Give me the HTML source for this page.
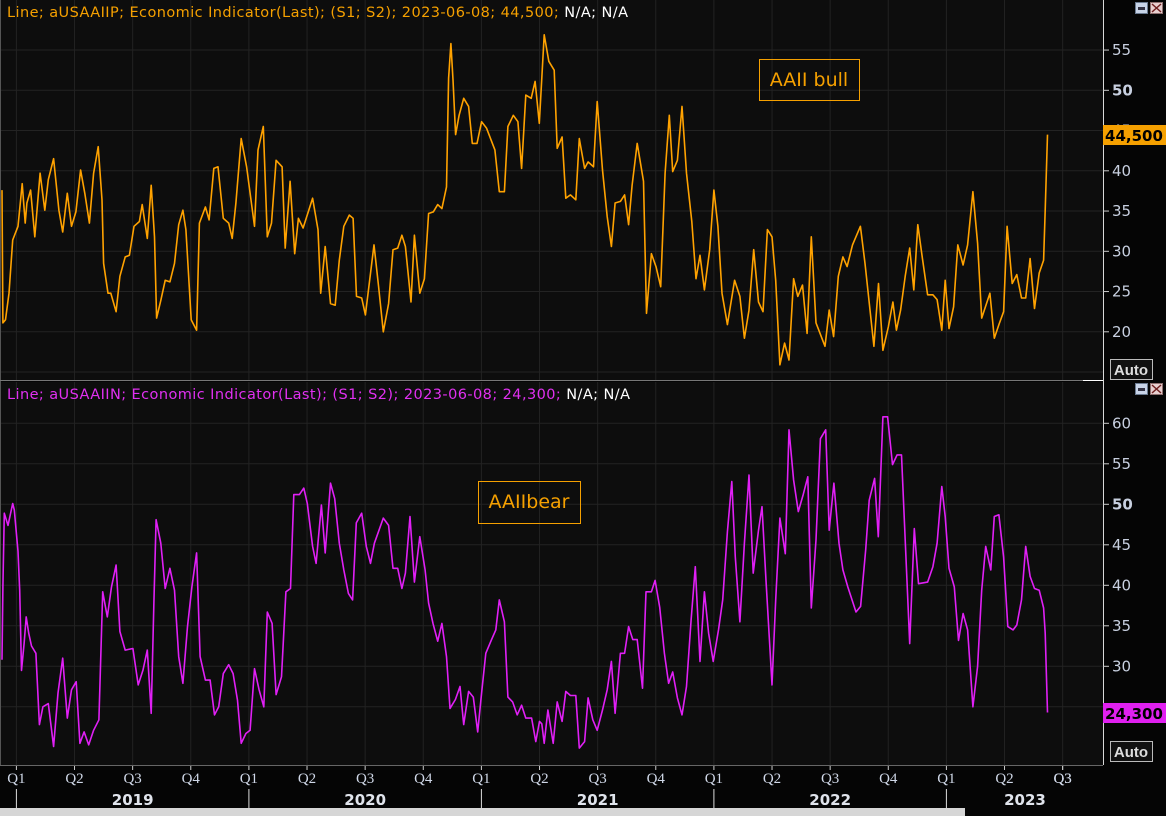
<!DOCTYPE html>
<html><head><meta charset="utf-8">
<style>
html,body{margin:0;padding:0;background:#000;width:1166px;height:816px;overflow:hidden;font-family:"Liberation Sans",sans-serif}
svg{display:block}
</style></head>
<body>
<svg id="chart" width="1166" height="816" xmlns="http://www.w3.org/2000/svg">
<rect x="0" y="0" width="1166" height="816" fill="#050505"/>
<rect x="1" y="0" width="1102" height="380" fill="#0d0d0d"/>
<rect x="1" y="382" width="1102" height="383" fill="#0d0d0d"/>
<g id="grid"></g>
<g id="series"></g>
<line x1="0.5" y1="0" x2="0.5" y2="765" stroke="#555"/>
<line x1="1103.5" y1="0" x2="1103.5" y2="765" stroke="#d8d8d8"/>
<line x1="0" y1="380.5" x2="1103" y2="380.5" stroke="#777"/>
<line x1="1083" y1="380.5" x2="1103" y2="380.5" stroke="#fff"/>
<line x1="0" y1="765.5" x2="1103" y2="765.5" stroke="#666"/>
<g id="axes"></g>
<text x="7" y="17" font-size="14.5" font-family="DejaVu Sans, sans-serif" fill="#f5a000" textLength="621" lengthAdjust="spacing">Line; aUSAAIIP; Economic Indicator(Last); (S1; S2); 2023-06-08; 44,500; <tspan fill="#fff">N/A; N/A</tspan></text>
<text x="7" y="399" font-size="14.5" font-family="DejaVu Sans, sans-serif" fill="#e030f0" textLength="623" lengthAdjust="spacing">Line; aUSAAIIN; Economic Indicator(Last); (S1; S2); 2023-06-08; 24,300; <tspan fill="#fff">N/A; N/A</tspan></text>
<g><rect x="759.5" y="59.5" width="100" height="41" fill="none" stroke="#f5a000"/><text x="809" y="86" font-size="19" font-family="DejaVu Sans, sans-serif" fill="#f5a000" text-anchor="middle">AAII bull</text></g>
<g><rect x="478.5" y="481.5" width="102" height="42" fill="none" stroke="#f5a000"/><text x="529" y="508" font-size="19" font-family="DejaVu Sans, sans-serif" fill="#f5a000" text-anchor="middle">AAIIbear</text></g>
<g><rect x="1103" y="125" width="63" height="20" fill="#f5a000"/><text x="1134" y="141" font-size="15" font-weight="bold" font-family="DejaVu Sans, sans-serif" fill="#000" text-anchor="middle">44,500</text></g>
<g><rect x="1103" y="703" width="63" height="20" fill="#e020f0"/><text x="1134" y="719" font-size="15" font-weight="bold" font-family="DejaVu Sans, sans-serif" fill="#000" text-anchor="middle">24,300</text></g>
<g><rect x="1110.5" y="359.5" width="42" height="20" fill="#111" stroke="#bbb"/><text x="1131" y="375" font-size="15" font-weight="bold" fill="#ddd" text-anchor="middle">Auto</text></g>
<g><rect x="1110.5" y="741.5" width="42" height="20" fill="#111" stroke="#bbb"/><text x="1131" y="757" font-size="15" font-weight="bold" fill="#ddd" text-anchor="middle">Auto</text></g>
<g><rect x="1135.5" y="2.5" width="12" height="11" fill="#c8d4e8" stroke="#6a7a90"/><rect x="1138" y="7" width="7" height="3" fill="#334"/></g>
<g><rect x="1150.5" y="2.5" width="12" height="11" fill="#e8d0d0" stroke="#907070"/><path d="M1152 4 L1161 12 M1161 4 L1152 12" stroke="#702020" stroke-width="1.5"/></g>
<g><rect x="1135.5" y="383.5" width="12" height="11" fill="#c8d4e8" stroke="#6a7a90"/><rect x="1138" y="388" width="7" height="3" fill="#334"/></g>
<g><rect x="1150.5" y="383.5" width="12" height="11" fill="#e8d0d0" stroke="#907070"/><path d="M1152 385 L1161 393 M1161 385 L1152 393" stroke="#702020" stroke-width="1.5"/></g>
<rect x="0" y="808" width="965" height="8" fill="#d6d6d6"/>
</svg>
<script>
const bullDates=[2018.938,2018.942,2018.953,2018.968,2018.984,2019.007,2019.025,2019.038,2019.045,2019.061,2019.079,2019.091,2019.102,2019.122,2019.137,2019.160,2019.183,2019.199,2019.219,2019.237,2019.256,2019.276,2019.294,2019.314,2019.332,2019.352,2019.368,2019.375,2019.394,2019.406,2019.429,2019.445,2019.468,2019.486,2019.506,2019.529,2019.541,2019.563,2019.580,2019.594,2019.603,2019.621,2019.640,2019.660,2019.680,2019.698,2019.716,2019.729,2019.752,2019.775,2019.787,2019.813,2019.829,2019.849,2019.867,2019.890,2019.913,2019.928,2019.944,2019.967,2019.990,2020.024,2020.039,2020.062,2020.079,2020.097,2020.117,2020.143,2020.156,2020.177,2020.197,2020.213,2020.233,2020.274,2020.297,2020.309,2020.328,2020.351,2020.371,2020.389,2020.408,2020.432,2020.448,2020.463,2020.485,2020.501,2020.538,2020.558,2020.578,2020.601,2020.620,2020.640,2020.658,2020.673,2020.697,2020.712,2020.735,2020.755,2020.773,2020.793,2020.812,2020.830,2020.850,2020.859,2020.869,2020.878,2020.889,2020.904,2020.924,2020.945,2020.961,2020.981,2021.001,2021.022,2021.058,2021.077,2021.099,2021.114,2021.137,2021.157,2021.173,2021.191,2021.214,2021.231,2021.249,2021.270,2021.290,2021.313,2021.326,2021.347,2021.363,2021.383,2021.406,2021.421,2021.444,2021.459,2021.482,2021.498,2021.521,2021.541,2021.559,2021.575,2021.598,2021.616,2021.633,2021.648,2021.670,2021.697,2021.710,2021.731,2021.751,2021.771,2021.790,2021.808,2021.823,2021.843,2021.863,2021.882,2021.905,2021.923,2021.940,2021.959,2021.982,2022.000,2022.017,2022.035,2022.058,2022.089,2022.112,2022.131,2022.151,2022.171,2022.192,2022.211,2022.230,2022.250,2022.266,2022.284,2022.304,2022.323,2022.343,2022.361,2022.381,2022.401,2022.419,2022.439,2022.478,2022.496,2022.515,2022.535,2022.555,2022.573,2022.596,2022.630,2022.650,2022.688,2022.708,2022.727,2022.750,2022.770,2022.785,2022.803,2022.823,2022.842,2022.860,2022.877,2022.896,2022.919,2022.942,2022.960,2022.980,2022.995,2023.011,2023.031,2023.049,2023.072,2023.091,2023.114,2023.134,2023.152,2023.187,2023.206,2023.226,2023.246,2023.261,2023.283,2023.303,2023.323,2023.341,2023.360,2023.379,2023.399,2023.418,2023.425,2023.435];
const bullValues=[37.6,21.1,21.5,24.8,31.4,33.1,38.4,33.5,36.0,37.6,31.8,36.0,39.7,35.1,38.9,41.5,35.1,32.4,37.2,33.1,34.9,40.1,37.2,33.5,39.7,43.0,36.4,28.5,24.8,24.8,22.5,26.9,29.3,29.5,33.1,33.7,35.8,31.6,38.2,31.8,21.7,23.9,26.4,26.2,28.5,33.3,35.1,32.7,21.5,20.2,33.5,35.5,33.9,40.3,40.5,34.1,33.5,31.6,36.0,44.0,40.5,33.1,42.6,45.5,31.8,33.5,41.3,40.5,30.4,38.7,29.7,34.1,32.9,36.6,32.7,24.8,30.6,23.5,23.3,28.9,33.1,34.5,34.1,24.4,24.2,22.1,30.8,25.6,20.0,23.5,30.2,30.4,32.0,30.6,23.7,32.0,24.8,26.6,34.7,34.9,35.8,35.3,38.0,51.5,55.8,51.3,44.5,46.9,49.0,48.0,43.4,43.4,46.1,45.3,42.6,37.4,37.4,45.5,46.9,46.1,40.3,49.4,49.0,51.1,45.9,56.9,53.6,52.5,42.8,44.2,36.6,37.0,36.4,44.0,40.3,41.1,40.5,48.6,40.1,34.3,30.6,36.0,36.2,37.0,33.3,38.2,43.4,38.7,22.3,29.7,28.1,25.6,39.7,46.9,39.9,41.3,48.0,39.7,33.7,26.6,29.5,25.2,30.2,37.6,33.1,24.8,20.9,26.4,24.4,19.2,22.7,30.2,23.7,22.5,32.7,31.8,26.4,15.9,18.6,16.5,26.6,24.4,25.8,19.8,31.8,21.1,18.2,22.7,19.4,26.9,29.3,28.1,30.8,33.1,28.5,18.2,26.0,17.7,20.6,23.7,20.2,22.7,26.9,30.4,25.2,33.3,29.3,24.6,24.6,24.0,20.2,26.4,20.4,23.1,30.8,28.3,30.8,37.4,31.0,21.7,24.8,19.2,20.9,22.5,33.1,26.0,27.1,24.2,24.2,29.1,22.9,27.3,28.9,35.1,44.5];
const bearDates=[2018.938,2018.942,2018.948,2018.964,2018.984,2018.991,2019.007,2019.014,2019.022,2019.033,2019.042,2019.053,2019.065,2019.084,2019.099,2019.114,2019.137,2019.160,2019.179,2019.199,2019.219,2019.237,2019.257,2019.273,2019.291,2019.311,2019.332,2019.355,2019.371,2019.391,2019.409,2019.429,2019.445,2019.468,2019.501,2019.524,2019.544,2019.563,2019.580,2019.591,2019.601,2019.621,2019.640,2019.660,2019.680,2019.698,2019.716,2019.736,2019.755,2019.775,2019.790,2019.813,2019.833,2019.852,2019.870,2019.890,2019.913,2019.932,2019.951,2019.967,2019.987,2020.005,2020.024,2020.044,2020.064,2020.079,2020.100,2020.117,2020.140,2020.159,2020.179,2020.193,2020.217,2020.236,2020.251,2020.274,2020.289,2020.312,2020.328,2020.351,2020.369,2020.389,2020.408,2020.428,2020.446,2020.462,2020.485,2020.505,2020.523,2020.540,2020.578,2020.601,2020.620,2020.640,2020.658,2020.673,2020.693,2020.712,2020.735,2020.758,2020.773,2020.792,2020.812,2020.830,2020.850,2020.865,2020.888,2020.908,2020.924,2020.945,2020.965,2020.984,2021.001,2021.019,2021.042,2021.062,2021.077,2021.099,2021.114,2021.134,2021.154,2021.173,2021.191,2021.216,2021.234,2021.250,2021.260,2021.270,2021.286,2021.309,2021.326,2021.347,2021.363,2021.383,2021.406,2021.421,2021.444,2021.459,2021.479,2021.498,2021.521,2021.541,2021.559,2021.575,2021.598,2021.616,2021.633,2021.651,2021.670,2021.693,2021.708,2021.731,2021.747,2021.767,2021.787,2021.805,2021.823,2021.843,2021.863,2021.882,2021.902,2021.920,2021.940,2021.959,2021.977,2021.997,2022.020,2022.038,2022.058,2022.077,2022.092,2022.112,2022.131,2022.151,2022.169,2022.192,2022.207,2022.224,2022.243,2022.250,2022.266,2022.284,2022.307,2022.323,2022.343,2022.363,2022.384,2022.404,2022.419,2022.439,2022.458,2022.481,2022.496,2022.516,2022.538,2022.555,2022.576,2022.611,2022.631,2022.653,2022.668,2022.691,2022.707,2022.727,2022.747,2022.768,2022.788,2022.807,2022.823,2022.842,2022.862,2022.880,2022.919,2022.942,2022.960,2022.980,2022.995,2023.011,2023.034,2023.052,2023.072,2023.091,2023.114,2023.134,2023.152,2023.169,2023.191,2023.206,2023.226,2023.246,2023.264,2023.287,2023.303,2023.323,2023.341,2023.360,2023.379,2023.399,2023.418,2023.425,2023.435];
const bearValues=[30.8,39.8,48.9,47.4,50.1,49.3,44.2,39.4,29.5,32.8,36.1,34.1,32.5,31.6,22.8,25.0,25.4,20.1,26.7,31.0,23.6,27.1,28.1,20.5,21.9,20.3,22.1,23.4,39.2,36.1,39.8,42.5,34.3,32.0,32.2,27.7,29.5,32.0,24.2,37.4,48.1,45.2,39.6,42.1,39.4,31.2,27.9,34.9,39.8,44.0,31.2,28.3,28.3,24.0,25.0,29.1,30.2,29.1,25.8,20.5,21.7,22.1,29.7,27.1,25.0,36.7,35.3,26.5,28.7,39.2,39.6,51.2,51.2,52.0,50.1,44.8,42.7,49.9,44.0,52.6,50.7,45.2,41.9,39.0,38.2,47.7,48.9,44.8,42.7,45.2,48.3,47.4,42.1,42.1,39.6,41.5,48.5,40.4,46.0,41.9,37.8,35.3,33.1,35.3,31.2,24.8,25.9,27.5,22.8,26.9,26.2,21.9,26.7,31.6,33.2,34.5,38.2,35.5,26.2,25.6,24.0,25.2,23.6,23.6,20.7,23.2,22.9,20.5,24.6,20.5,25.6,23.2,26.9,26.4,26.4,19.9,20.7,26.1,23.4,22.1,24.6,27.1,30.6,24.2,31.6,31.6,34.9,33.3,33.3,27.3,39.2,39.2,40.6,37.3,31.6,27.9,29.3,26.1,24.0,27.5,35.7,42.3,30.6,39.2,34.1,30.6,34.5,38.2,46.6,52.8,43.5,35.5,45.2,53.6,41.5,46.8,49.7,40.6,31.2,27.7,38.2,48.3,43.9,59.2,53.0,49.1,51.2,53.4,37.2,45.6,58.1,59.2,46.8,52.6,45.2,41.9,39.8,36.7,37.4,44.4,50.5,53.2,46.0,60.8,60.8,54.9,56.1,56.1,45.6,32.8,47.0,40.2,40.4,42.3,45.2,52.2,48.5,42.1,39.8,33.2,36.5,34.5,25.0,30.0,39.4,44.8,41.9,48.5,48.7,43.5,34.9,34.5,35.1,38.2,44.8,41.1,39.6,39.4,37.2,34.1,24.3];
const bullTicks=[20,25,30,35,40,45,50,55];
const bearTicks=[30,35,40,45,50,55,60];
const quarterLabels=["Q1","Q2","Q3","Q4"];
const years=[2019,2020,2021,2022,2023];

const NS="http://www.w3.org/2000/svg";
const X0=16.4,YEARPX=232.5;
function xScale(t){return X0+(t-2019)*YEARPX;}
function yBull(v){return 90.3+(50-v)*8.05;}
function yBear(v){return 504.3+(50-v)*8.1;}
function mk(tag,attrs,parent){const e=document.createElementNS(NS,tag);for(const k in attrs)e.setAttribute(k,attrs[k]);parent.appendChild(e);return e;}
const grid=document.getElementById('grid'),series=document.getElementById('series'),axes=document.getElementById('axes');

for(let yi=0;yi<years.length;yi++){
  for(let q=0;q<4;q++){
    const t=years[yi]+q*0.25;const x=xScale(t);
    if(x>1100)continue;
    const g1=mk('line',{x1:x,y1:0,x2:x,y2:380,stroke:'#222'},grid);
    
    
    const g2=mk('line',{x1:x,y1:382,x2:x,y2:765,stroke:'#222'},grid);
    
    
    const tk=mk('line',{x1:x,y1:766,x2:x,y2:770,stroke:'#ccc'},axes);
    
    
    const lb=mk('text',{x:x,y:783,'font-size':15,fill:'#d0d8e8','text-anchor':'middle','font-family':'Liberation Serif, serif'},axes);
    lb.textContent=quarterLabels[q];
    
    
  }
  const xs=xScale(years[yi]);
  const sep=mk('line',{x1:xs,y1:789,x2:xs,y2:808,stroke:'#ddd'},axes);
  
  
  const yl=mk('text',{x:Math.min(xScale(years[yi]+0.5),1025),y:805,'font-size':15,'font-weight':'bold','font-family':'DejaVu Sans, sans-serif',fill:'#e0e4ec','text-anchor':'middle'},axes);
  yl.textContent=years[yi];
  
  
}
{const x=xScale(2023.5);const tk=mk('line',{x1:x,y1:766,x2:x,y2:770,stroke:'#ccc'},axes);


const lb=mk('text',{x:x,y:783,'font-size':15,fill:'#d0d8e8','text-anchor':'middle','font-family':'Liberation Serif, serif'},axes);
lb.textContent=quarterLabels[2];

}

for(let v=15;v<=55;v+=5){const y=yBull(v);
  const g=mk('line',{x1:1,y1:y,x2:1103,y2:y,stroke:'#232323'},grid);
  
  }
for(let v=25;v<=60;v+=5){const y=yBear(v);
  const g=mk('line',{x1:1,y1:y,x2:1103,y2:y,stroke:'#232323'},grid);
  
  }
bullTicks.forEach(v=>{const y=yBull(v);
  const tk=mk('line',{x1:1103,y1:y,x2:1109,y2:y,stroke:'#ccc'},axes);
  
  
  const t=mk('text',{x:1112,y:y+5,'font-size':15,'font-family':'DejaVu Sans, sans-serif',fill:'#c8d0e0','font-weight':v===50?'bold':'normal'},axes);
  t.textContent=v;
  
  });
bearTicks.forEach(v=>{const y=yBear(v);
  const tk=mk('line',{x1:1103,y1:y,x2:1109,y2:y,stroke:'#ccc'},axes);
  
  
  const t=mk('text',{x:1112,y:y+5,'font-size':15,'font-family':'DejaVu Sans, sans-serif',fill:'#c8d0e0','font-weight':v===50?'bold':'normal'},axes);
  t.textContent=v;
  
  });

function linePath(dates,vals,ys){return dates.map((d,i)=>(i?'L':'M')+xScale(d).toFixed(1)+' '+ys(vals[i]).toFixed(1)).join(' ');}
const pb=mk('path',{d:linePath(bullDates,bullValues,yBull),fill:'none',stroke:'#ffa200','stroke-width':1.6,'stroke-linejoin':'round'},series);


const pr=mk('path',{d:linePath(bearDates,bearValues,yBear),fill:'none',stroke:'#e020f5','stroke-width':1.6,'stroke-linejoin':'round'},series);


</script>
</body></html>
